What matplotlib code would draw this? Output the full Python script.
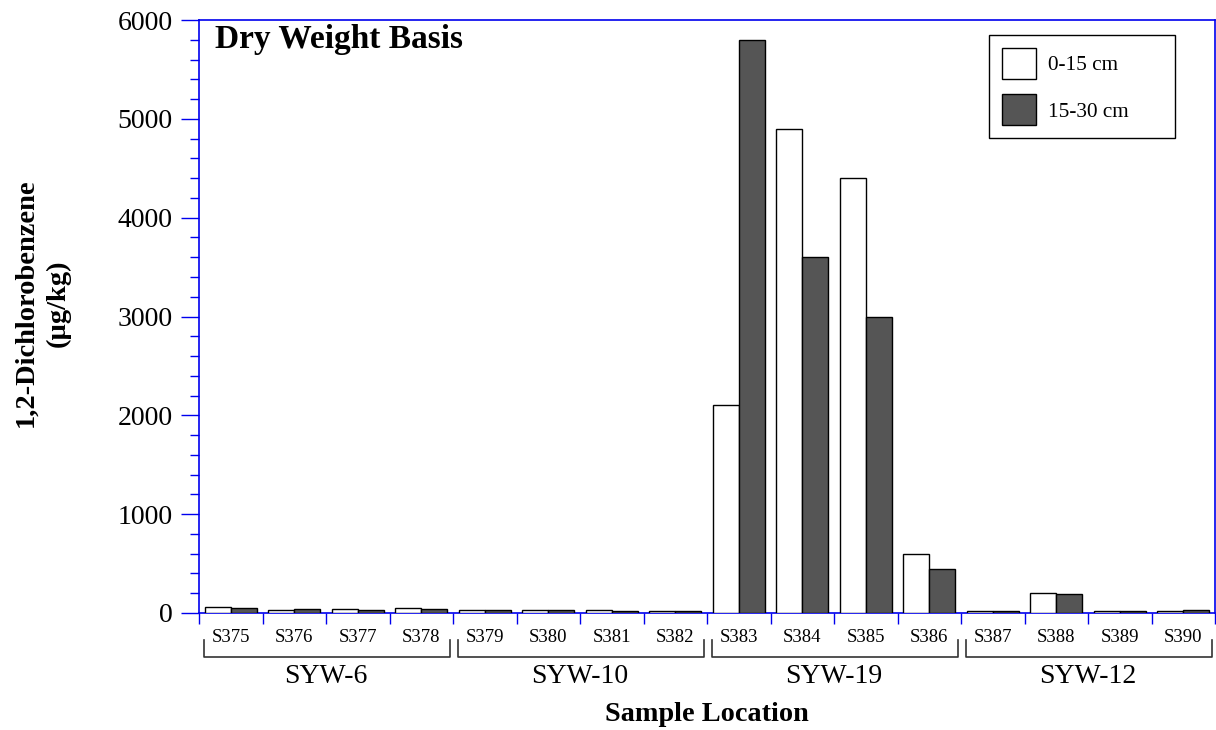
import matplotlib
matplotlib.use("Agg")
import matplotlib.pyplot as plt
import matplotlib.transforms as mtransforms
from matplotlib.patches import Patch
from matplotlib.ticker import MultipleLocator
import numpy as np

plt.rcParams['font.family'] = ['Liberation Serif', 'DejaVu Serif']

samples = ["S375", "S376", "S377", "S378", "S379", "S380", "S381", "S382",
           "S383", "S384", "S385", "S386", "S387", "S388", "S389", "S390"]
groups = ["SYW-6", "SYW-10", "SYW-19", "SYW-12"]
group_sizes = [4, 4, 4, 4]
shallow = [60, 30, 40, 50, 30, 30, 30, 20, 2100, 4900, 4400, 600, 20, 200, 20, 20]
deep = [50, 40, 30, 40, 30, 30, 20, 20, 5800, 3600, 3000, 450, 20, 190, 20, 30]
series_labels = ["0-15 cm", "15-30 cm"]

blue = '#0000ee'
dark = '#555555'

fig = plt.figure(figsize=(12.16, 7.30), dpi=100)
ax = fig.add_axes([199/1216, 1-613/730, 1016/1216, 593/730])

x = np.arange(len(samples))
w = 0.41
ax.bar(x - w/2, shallow, width=w, color='white', edgecolor='black', linewidth=1.0, zorder=3)
ax.bar(x + w/2, deep, width=w, color=dark, edgecolor='black', linewidth=1.0, zorder=3)

ax.set_xlim(-0.5, len(samples) - 0.5)
ax.set_ylim(0, 6000)
ax.yaxis.set_major_locator(MultipleLocator(1000))
ax.yaxis.set_minor_locator(MultipleLocator(200))
ax.set_xticks(np.arange(len(samples) + 1) - 0.5)
ax.set_xticklabels([])
ax.tick_params(axis='y', which='major', length=13, width=1, color=blue, labelsize=20, pad=6)
ax.tick_params(axis='y', which='minor', length=6.7, width=1, color=blue)
ax.tick_params(axis='x', which='major', length=8, width=1, color=blue)
for s in ax.spines.values():
    s.set_color(blue)
    s.set_linewidth(1.2)

trans = mtransforms.blended_transform_factory(ax.transData, ax.transAxes)
for i, s in enumerate(samples):
    ax.text(i, -0.042, s, transform=trans, ha='center', va='center', fontsize=13.5)

start = 0
for g, n in zip(groups, group_sizes):
    x0 = start - 0.5 + 0.08
    x1 = start + n - 0.5 - 0.04
    yt, yb = -0.045, -0.074
    ax.plot([x0, x0, x1, x1], [yt, yb, yb, yt], transform=trans, color='#333333',
            linewidth=1.2, clip_on=False)
    ax.text(start + (n - 1) / 2, -0.107, g, transform=trans, ha='center', va='center', fontsize=20)
    start += n

ax.text(0.5, -0.172, "Sample Location", transform=ax.transAxes, ha='center', va='center',
        fontsize=20.3, fontweight='bold')
fig.text(42/1216, 1-303/730, "1,2-Dichlorobenzene\n(µg/kg)", rotation=90, ha='center',
         va='center', fontsize=20.5, fontweight='bold', multialignment='center', linespacing=1.4)
ax.text(0.0155, 0.9528, "Dry Weight Basis", transform=ax.transAxes, ha='left', va='baseline',
        fontsize=24, fontweight='bold')

handles = [Patch(facecolor='white', edgecolor='black', linewidth=1.0),
           Patch(facecolor=dark, edgecolor='black', linewidth=1.0)]
leg = ax.legend(handles, series_labels, loc='upper left',
                bbox_to_anchor=(790/1016, 0, 186/1016, 578/593), mode='expand',
                borderaxespad=0, fontsize=15.3, handlelength=1.6, handleheight=1.85,
                handletextpad=0.6, labelspacing=0.75, borderpad=0.6, fancybox=False,
                framealpha=1)
leg.get_frame().set_edgecolor('black')
leg.get_frame().set_linewidth(1.0)

fig.savefig("out.png", dpi=100)
